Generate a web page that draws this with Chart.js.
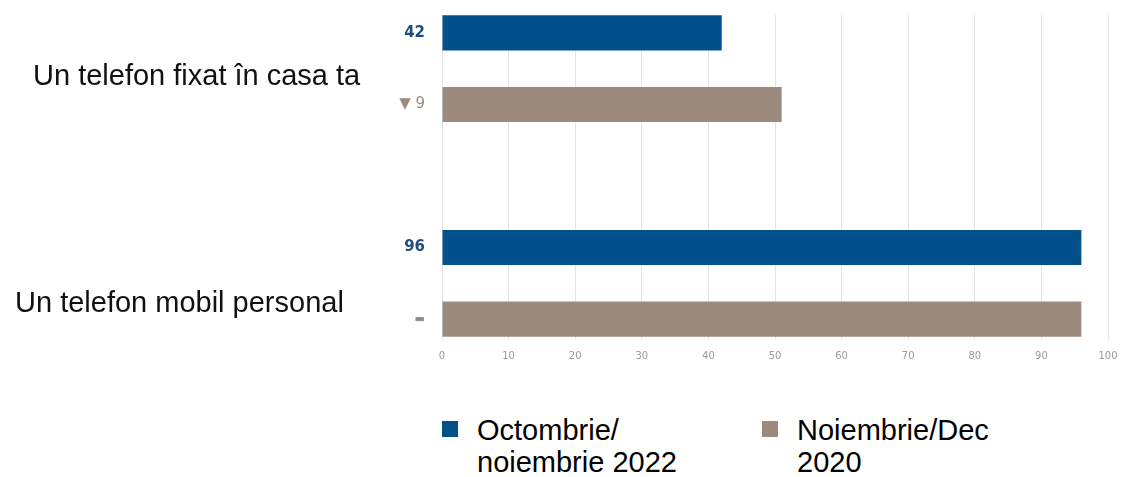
<!DOCTYPE html>
<html>
<head>
<meta charset="utf-8">
<script src="https://cdn.jsdelivr.net/npm/chart.js@4/dist/chart.umd.min.js"></script>
<style>
    body { margin: 0; background: #fff; }
    #wrap { position: relative; width: 1133px; height: 477px; overflow: hidden; }
    #chartBox { position: absolute; left: 0; top: 0; width: 1133px; height: 372px; }
    .cat-label {
        position: absolute;
        font-family: "Liberation Sans", Arial, sans-serif;
        font-size: 29px;
        color: #111;
        white-space: nowrap;
        line-height: 1;
    }
    .legend-item {
        position: absolute;
        top: 414px;
        font-family: "Liberation Sans", Arial, sans-serif;
        font-size: 29px;
        line-height: 32px;
        color: #000;
    }
    .legend-item .swatch {
        position: absolute;
        left: 0;
        top: 7px;
        width: 16px;
        height: 16px;
    }
    .legend-item .text { margin-left: 35px; }
</style>
</head>
<body>
<div id="wrap">
    <div id="chartBox"><canvas id="surveyChart"></canvas></div>
</div>
<script>
const categories = ['Un telefon fixat în casa ta', 'Un telefon mobil personal'];
const seriesLabels = [['Octombrie/', 'noiembrie 2022'], ['Noiembrie/Dec', '2020']];
const values2022 = [42, 96];
const values2020 = [51, 96];
const xMax = 100;
const xStep = 10;

const colors = ['#02518a', '#9d8a7e'];

// left-hand category captions, one per row
const catPos = [{ left: 33, top: 61 }, { left: 15, top: 288 }];
const wrap = document.getElementById('wrap');
categories.forEach((c, i) => {
    const div = document.createElement('div');
    div.className = 'cat-label';
    div.textContent = c;
    div.style.left = catPos[i].left + 'px';
    div.style.top = catPos[i].top + 'px';
    wrap.appendChild(div);
});

// legend below the chart
const legendLeft = [442, 762];
seriesLabels.forEach((lines, i) => {
    const item = document.createElement('div');
    item.className = 'legend-item';
    item.style.left = legendLeft[i] + 'px';
    item.innerHTML = `<div class="swatch" style="background:${colors[i]}"></div>
        <div class="text">${lines.join('<br>')}</div>`;
    wrap.appendChild(item);
});

// value for the newest wave, change vs the older one for the second bar
function barLabel(dsIndex, i) {
    if (dsIndex === 0) return String(values2022[i]);
    const diff = values2022[i] - values2020[i];
    if (diff === 0) return '▬';
    return (diff < 0 ? '▼ ' : '▲ ') + Math.abs(diff);
}

const valueLabels = {
    id: 'valueLabels',
    afterDatasetsDraw(chart) {
        const ctx = chart.ctx;
        const x = chart.chartArea.left - 17;
        ctx.save();
        ctx.textAlign = 'right';
        ctx.textBaseline = 'middle';
        chart.data.datasets.forEach((ds, d) => {
            chart.getDatasetMeta(d).data.forEach((bar, i) => {
                const txt = barLabel(d, i);
                if (d === 0) {
                    ctx.font = 'bold 15px "DejaVu Sans", Verdana, sans-serif';
                    ctx.fillStyle = '#1c4f7e';
                } else {
                    ctx.font = (txt === '▬' ? '11px' : '15px') + ' "DejaVu Sans", Verdana, sans-serif';
                    ctx.fillStyle = '#998a80';
                }
                ctx.fillText(txt, x, bar.y);
            });
        });
        ctx.restore();
    }
};

const toPoints = vals => vals.map((v, i) => ({ x: v, y: i }));

new Chart(document.getElementById('surveyChart'), {
    type: 'bar',
    data: {
        datasets: [
            { label: seriesLabels[0].join(' '), data: toPoints(values2022), backgroundColor: colors[0] },
            { label: seriesLabels[1].join(' '), data: toPoints(values2020), backgroundColor: colors[1] }
        ]
    },
    options: {
        indexAxis: 'y',
        responsive: true,
        maintainAspectRatio: false,
        animation: false,
        categoryPercentage: 0.667,
        barPercentage: 0.49,
        layout: { padding: { left: 442, right: 25, top: 15, bottom: 0 } },
        plugins: {
            legend: { display: false },
            tooltip: { enabled: false }
        },
        scales: {
            x: {
                min: 0,
                max: xMax,
                border: { display: false },
                grid: { color: '#e4e4e4', drawTicks: false },
                ticks: {
                    stepSize: xStep,
                    padding: 10,
                    color: '#9a9a9a',
                    font: { family: '"DejaVu Sans", Verdana, sans-serif', size: 10 }
                }
            },
            y: {
                type: 'linear',
                reverse: true,
                display: false,
                offset: false,
                grid: { offset: false },
                bounds: 'data',
                min: -0.25,
                max: 1.264,
                // one tick per row so the bar width follows the row spacing
                afterBuildTicks: axis => {
                    axis.ticks = categories.map((c, i) => ({ value: i }));
                }
            }
        }
    },
    plugins: [valueLabels]
});
</script>
</body>
</html>
